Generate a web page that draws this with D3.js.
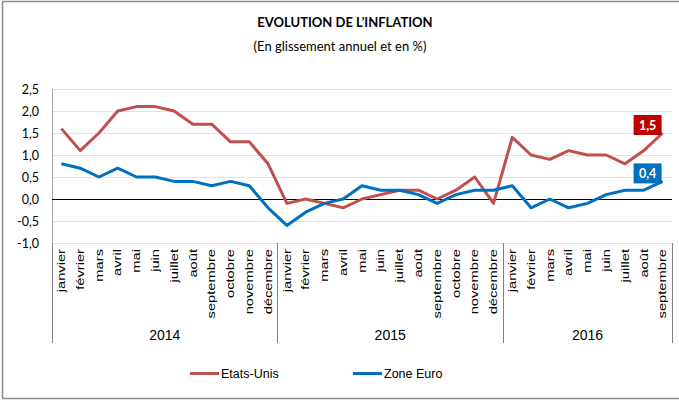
<!DOCTYPE html>
<html>
<head>
<meta charset="utf-8">
<script src="https://cdn.jsdelivr.net/npm/d3@7/dist/d3.min.js"></script>
<style>
    html, body { margin: 0; padding: 0; background: white; }
    svg { display: block; }
</style>
</head>
<body>
<svg id="chart"></svg>
<script>
'use strict';

const monthNames = ['janvier', 'février', 'mars', 'avril', 'mai', 'juin', 'juillet',
    'août', 'septembre', 'octobre', 'novembre', 'décembre'];
const years = ['2014', '2015', '2016'];
const monthsPerYear = [12, 12, 9];

const usValues = [
    1.6, 1.1, 1.5, 2.0, 2.1, 2.1, 2.0, 1.7, 1.7, 1.3, 1.3, 0.8,
    -0.1, 0.0, -0.1, -0.2, 0.0, 0.1, 0.2, 0.2, 0.0, 0.2, 0.5, -0.1,
    1.4, 1.0, 0.9, 1.1, 1.0, 1.0, 0.8, 1.1, 1.5];
const euroValues = [
    0.8, 0.7, 0.5, 0.7, 0.5, 0.5, 0.4, 0.4, 0.3, 0.4, 0.3, -0.2,
    -0.6, -0.3, -0.1, 0.0, 0.3, 0.2, 0.2, 0.1, -0.1, 0.1, 0.2, 0.2,
    0.3, -0.2, 0.0, -0.2, -0.1, 0.1, 0.2, 0.2, 0.4];
const yTicks = [-1.0, -0.5, 0.0, 0.5, 1.0, 1.5, 2.0, 2.5];

const series = [
    {name: 'Etats-Unis', values: usValues, color: '#C0504D', labelColor: '#C00000', legendX: 190},
    {name: 'Zone Euro', values: euroValues, color: '#0070C0', labelColor: '#0070C0', legendX: 353},
];

// one category per month, keyed by year
const categories = years.flatMap((year, i) =>
    monthNames.slice(0, monthsPerYear[i]).map(month => ({year, month, key: `${year}-${month}`})));

const width = 679;
const height = 401;
const plotLeft = 52, plotRight = 672, plotTop = 89, plotBottom = 243;

const svg = d3.select('#chart')
    .attr('width', width)
    .attr('height', height);

// frame
svg.append('rect')
    .attr('x', 2.5)
    .attr('y', 1.5)
    .attr('width', 700)
    .attr('height', 397)
    .attr('fill', 'none')
    .attr('stroke', '#8c8c8c')
    .attr('stroke-width', 1.5);

svg.append('text')
    .attr('x', 345)
    .attr('y', 27)
    .attr('text-anchor', 'middle')
    .attr('font-family', 'Lato, sans-serif')
    .attr('font-weight', 'bold')
    .attr('font-size', 13)
    .text('EVOLUTION DE L\u2019INFLATION');

svg.append('text')
    .attr('x', 340)
    .attr('y', 51)
    .attr('text-anchor', 'middle')
    .attr('font-family', 'Lato, sans-serif')
    .attr('font-size', 13)
    .text('(En glissement annuel et en %)');

const x = d3.scaleBand()
    .domain(categories.map(c => c.key))
    .range([plotLeft, plotRight])
    .padding(0);

const y = d3.scaleLinear()
    .domain([-1, 2.5])
    .range([plotBottom, plotTop]);

const fmt = v => d3.format('.1f')(v).replace('.', ',').replace('\u2212', '-');

// grid lines
svg.append('g')
    .selectAll('line')
    .data(yTicks)
    .join('line')
    .attr('x1', plotLeft)
    .attr('x2', plotRight)
    .attr('y1', d => Math.round(y(d)) + 0.5)
    .attr('y2', d => Math.round(y(d)) + 0.5)
    .attr('stroke', d => d === 0 ? 'none' : '#e3e3e3')
    .attr('stroke-width', 1);

// y axis labels
const yAxis = svg.append('g')
    .attr('transform', `translate(${plotLeft},0)`)
    .call(d3.axisLeft(y).tickValues(yTicks).tickFormat(fmt).tickSize(0).tickPadding(13));
yAxis.select('.domain').remove();
yAxis.selectAll('text')
    .attr('font-family', 'Lato, sans-serif')
    .attr('font-size', 12.5)
    .attr('fill', '#000');

// vertical axis line
svg.append('line')
    .attr('x1', plotLeft + 0.5)
    .attr('x2', plotLeft + 0.5)
    .attr('y1', plotTop)
    .attr('y2', 343)
    .attr('stroke', '#a6a6a6')
    .attr('stroke-width', 1);

// zero line
svg.append('line')
    .attr('x1', plotLeft)
    .attr('x2', plotRight)
    .attr('y1', Math.round(y(0)) + 0.5)
    .attr('y2', Math.round(y(0)) + 0.5)
    .attr('stroke', '#000')
    .attr('stroke-width', 1);

// month labels
svg.append('g')
    .selectAll('text')
    .data(categories)
    .join('text')
    .attr('transform', d => `translate(${x(d.key) + x.bandwidth() / 2},249) rotate(-90) scale(1.4,1)`)
    .attr('text-anchor', 'end')
    .attr('dy', '0.35em')
    .attr('font-family', '"Liberation Sans", Arial, sans-serif')
    .attr('font-size', 10.5)
    .text(d => d.month);

// year separators and labels
const yearStarts = years.map(year => categories.find(c => c.year === year).key);
const yearEnds = years.map(year => categories.filter(c => c.year === year).pop().key);

svg.append('g')
    .selectAll('line')
    .data([...yearStarts.map(k => x(k)), x(yearEnds[yearEnds.length - 1]) + x.bandwidth()])
    .join('line')
    .attr('x1', d => Math.round(d) + 0.5)
    .attr('x2', d => Math.round(d) + 0.5)
    .attr('y1', plotBottom)
    .attr('y2', 343)
    .attr('stroke', '#808080')
    .attr('stroke-width', 1);

svg.append('g')
    .selectAll('text')
    .data(years)
    .join('text')
    .attr('x', (d, i) => (x(yearStarts[i]) + x(yearEnds[i]) + x.bandwidth()) / 2)
    .attr('y', 340)
    .attr('text-anchor', 'middle')
    .attr('font-family', '"Liberation Sans", Arial, sans-serif')
    .attr('font-size', 14)
    .text(d => d);

// lines
const line = d3.line()
    .x((d, i) => x(categories[i].key) + x.bandwidth() / 2)
    .y(d => y(d));

svg.append('g')
    .selectAll('path')
    .data(series)
    .join('path')
    .attr('d', s => line(s.values))
    .attr('fill', 'none')
    .attr('stroke', s => s.color)
    .attr('stroke-width', 3)
    .attr('stroke-linejoin', 'round');

// last value labels
const lastIdx = categories.length - 1;
const labels = svg.append('g')
    .selectAll('g')
    .data(series)
    .join('g')
    .attr('transform', s => `translate(${x(categories[lastIdx].key) + x.bandwidth() / 2},${y(s.values[lastIdx])})`);

labels.append('rect')
    .attr('x', -29)
    .attr('y', -18)
    .attr('width', 28)
    .attr('height', 20)
    .attr('fill', s => s.labelColor);

labels.append('text')
    .attr('x', -15)
    .attr('y', -3.5)
    .attr('text-anchor', 'middle')
    .attr('font-family', 'Lato, sans-serif')
    .attr('font-weight', 'bold')
    .attr('font-size', 12.5)
    .attr('fill', 'white')
    .text(s => fmt(s.values[lastIdx]));

// legend
const legend = svg.append('g')
    .selectAll('g')
    .data(series)
    .join('g')
    .attr('transform', s => `translate(${s.legendX},373.5)`);

legend.append('line')
    .attr('x1', 0)
    .attr('x2', 29)
    .attr('stroke', s => s.color)
    .attr('stroke-width', 3);

legend.append('text')
    .attr('x', 31)
    .attr('y', 4.5)
    .attr('font-family', '"Liberation Sans", Arial, sans-serif')
    .attr('font-size', 12.5)
    .text(s => s.name);
</script>
</body>
</html>
